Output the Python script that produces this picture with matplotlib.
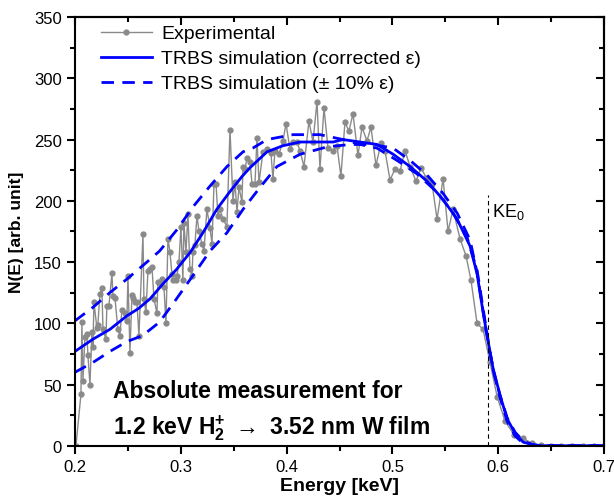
import matplotlib
matplotlib.use("Agg")
import matplotlib.pyplot as plt
from matplotlib.ticker import MultipleLocator

plt.rcParams['font.family'] = ['Liberation Sans', 'DejaVu Sans']
plt.rcParams['mathtext.fontset'] = 'custom'
plt.rcParams['mathtext.rm'] = 'Liberation Sans'
plt.rcParams['mathtext.bf'] = 'Liberation Sans:bold'

# experimental spectrum
exp_energy = [0.201, 0.2057, 0.2066, 0.2076, 0.2095, 0.2113, 0.2123, 0.2142, 0.2161, 0.217,
              0.218, 0.2208, 0.2217, 0.2236, 0.2255, 0.2265, 0.2293, 0.2302, 0.2321, 0.235,
              0.2359, 0.2378, 0.2406, 0.2425, 0.2444, 0.2473, 0.2491, 0.2501, 0.252, 0.2539,
              0.2548, 0.2567, 0.2586, 0.2605, 0.2643, 0.2652, 0.2671, 0.269, 0.2709, 0.2728,
              0.2747, 0.2775, 0.2784, 0.2803, 0.2822, 0.2841, 0.286, 0.2879, 0.2898, 0.2917,
              0.2926, 0.2954, 0.2964, 0.2983, 0.3002, 0.302, 0.303, 0.3049, 0.3068, 0.3087,
              0.3106, 0.3115, 0.3134, 0.3153, 0.3172, 0.32, 0.3219, 0.3247, 0.3276, 0.3295,
              0.3314, 0.3333, 0.3351, 0.337, 0.3399, 0.3436, 0.3465, 0.3493, 0.3512, 0.3531,
              0.355, 0.3578, 0.3588, 0.3607, 0.3626, 0.3654, 0.3673, 0.3701, 0.372, 0.3739,
              0.3777, 0.3814, 0.3852, 0.3871, 0.389, 0.3928, 0.3966, 0.3994, 0.4032, 0.406,
              0.4098, 0.4126, 0.4164, 0.4211, 0.4249, 0.4287, 0.4315, 0.4353, 0.4391, 0.4438,
              0.4476, 0.4513, 0.4551, 0.4589, 0.4627, 0.4674, 0.4712, 0.4759, 0.4797, 0.4844,
              0.4892, 0.4929, 0.4977, 0.5024, 0.5071, 0.5118, 0.5166, 0.5222, 0.527, 0.5317,
              0.5374, 0.5421, 0.5478, 0.5525, 0.5572, 0.5638, 0.5695, 0.5742, 0.5799, 0.5856,
              0.5922, 0.5989, 0.6064, 0.6149, 0.6234, 0.6319, 0.6404, 0.65, 0.6593, 0.6697,
              0.68, 0.6905, 0.7]
exp_counts = [0, 42, 101, 53, 89, 91, 74, 50, 93, 81,
              117, 96, 99, 124, 129, 95, 87, 114, 114, 141,
              122, 121, 95, 90, 111, 108, 102, 139, 76, 123,
              121, 117, 117, 90, 173, 120, 109, 143, 144, 146,
              120, 108, 134, 133, 136, 130, 100, 169, 158, 140,
              135, 135, 139, 150, 179, 135, 182, 158, 189, 144,
              139, 158, 164, 188, 175, 165, 159, 193, 178, 165,
              214, 214, 188, 193, 185, 179, 258, 200, 215, 191,
              211, 199, 228, 226, 235, 232, 214, 214, 251, 215,
              240, 242, 239, 218, 241, 238, 249, 263, 242, 248,
              248, 241, 228, 265, 248, 281, 226, 276, 243, 241,
              245, 220, 264, 257, 271, 237, 260, 249, 260, 229,
              247, 241, 217, 226, 224, 241, 228, 216, 227, 219,
              214, 185, 218, 175, 193, 169, 155, 135, 100, 95,
              68, 40, 20, 9, 6, 2, 0.5, 0, 0, 0,
              0, 0, 0]

# TRBS simulation, corrected stopping
sim_energy = [0.2, 0.217, 0.233, 0.249, 0.26, 0.271, 0.283, 0.296, 0.309, 0.321,
              0.334, 0.346, 0.358, 0.3654, 0.3815, 0.3966, 0.4127, 0.4287, 0.4439, 0.4533,
              0.4694, 0.4854, 0.5006, 0.5166, 0.5327, 0.5478, 0.5611, 0.5733, 0.58, 0.5856,
              0.5904, 0.5951, 0.6017, 0.6083, 0.6159, 0.6234, 0.6319, 0.64, 0.7]
sim_counts = [77, 87, 95, 106, 112, 120, 132, 144, 158, 174,
              193, 207, 220, 227, 240, 245, 248, 248, 248, 250,
              248, 246, 238, 228, 216, 201, 185, 163, 140, 109,
              85, 63, 41, 22, 10, 3, 1, 0, 0]

# TRBS simulation, +/- 10 % stopping
hi_energy = [0.2, 0.217, 0.233, 0.249, 0.264, 0.28, 0.296, 0.3115, 0.3276, 0.3437,
             0.3588, 0.368, 0.3815, 0.406, 0.4316, 0.4533, 0.4694, 0.4854, 0.5043, 0.5232,
             0.5421, 0.5573, 0.5705, 0.58, 0.5856, 0.5904, 0.5951, 0.6017, 0.6083, 0.6159,
             0.6234, 0.6319, 0.64, 0.7]
hi_counts = [102, 113, 125, 136, 147, 159, 176, 195, 212, 228,
             240, 243, 250, 254, 254, 250, 246, 243, 233, 222,
             207, 190, 170, 143, 112, 86, 62, 39, 20, 8,
             2, 0.5, 0, 0]
lo_energy = [0.2, 0.217, 0.233, 0.249, 0.264, 0.28, 0.296, 0.3115, 0.3276, 0.3437,
             0.3588, 0.3749, 0.3909, 0.4127, 0.4382, 0.46, 0.4817, 0.5006, 0.5166, 0.5327,
             0.5478, 0.5611, 0.5733, 0.58, 0.5856, 0.5904, 0.5951, 0.6017, 0.6083, 0.6159,
             0.6234, 0.6319, 0.64, 0.7]
lo_counts = [60, 68, 77, 85, 90, 101, 120, 139, 159, 174,
             193, 211, 228, 238, 244, 246, 246, 243, 233, 221,
             206, 190, 168, 141, 110, 84, 62, 41, 23, 11,
             4, 1, 0, 0]

ke0 = 0.59

fig = plt.figure(figsize=(6.14, 5.02), dpi=100)
ax = fig.add_axes([0.122, 0.11, 0.862, 0.854])

ax.plot(exp_energy, exp_counts, color='#8a8a8a', lw=1.0, marker='o', ms=3.5,
        label='Experimental')
ax.plot(sim_energy, sim_counts, color='#0000ff', lw=2.0,
        label='TRBS simulation (corrected ε)')
ax.plot(hi_energy, hi_counts, color='#0000ff', lw=2.0, dashes=(4.5, 3),
        label='TRBS simulation (± 10% ε)')
ax.plot(lo_energy, lo_counts, color='#0000ff', lw=2.0, dashes=(4.5, 3))

ax.plot([ke0, ke0], [0, 205], color='black', lw=0.8, ls=(0, (4, 3)))
ax.text(0.594, 192, 'KE$_0$', fontsize=13, va='center', ha='left')

ax.text(0.236, 45, 'Absolute measurement for', fontsize=16.5, fontweight='bold',
        va='center', ha='left')
ax.text(0.236, 15, '1.2 keV H$_\\mathbf{2}^\\mathbf{+}$ $\\rightarrow$ 3.52 nm W film', fontsize=16.5,
        fontweight='bold', va='center', ha='left')

ax.set_xlim(0.2, 0.7)
ax.set_ylim(0, 350)
ax.xaxis.set_major_locator(MultipleLocator(0.1))
ax.xaxis.set_minor_locator(MultipleLocator(0.05))
ax.yaxis.set_major_locator(MultipleLocator(50))
ax.yaxis.set_minor_locator(MultipleLocator(25))
ax.tick_params(which='major', direction='out', length=6, width=1.5, labelsize=12)
ax.tick_params(which='minor', direction='out', length=3.5, width=1.5)

for side in ['top', 'right']:
    if side == 'top':
        sec = ax.secondary_xaxis('top')
        sec.xaxis.set_major_locator(MultipleLocator(0.1))
        sec.xaxis.set_minor_locator(MultipleLocator(0.05))
    else:
        sec = ax.secondary_yaxis('right')
        sec.yaxis.set_major_locator(MultipleLocator(50))
        sec.yaxis.set_minor_locator(MultipleLocator(25))
    sec.tick_params(which='major', direction='in', length=6, width=1.5)
    sec.tick_params(which='minor', direction='in', length=3.5, width=1.5)
    sec.tick_params(labeltop=False, labelright=False)
    sec.spines[side].set_linewidth(1.5)

for s in ax.spines.values():
    s.set_linewidth(1.5)

ax.set_xlabel('Energy [keV]', fontsize=14, fontweight='bold', labelpad=2)
ax.set_ylabel('N(E) [arb. unit]', fontsize=12.5, fontweight='bold', labelpad=7)

ax.legend(loc='upper left', frameon=False, fontsize=14, handlelength=2.6,
          bbox_to_anchor=(0.035, 1.0), borderaxespad=0.0, labelspacing=0.38,
          handletextpad=0.5)

fig.savefig('out.png', dpi=100)
